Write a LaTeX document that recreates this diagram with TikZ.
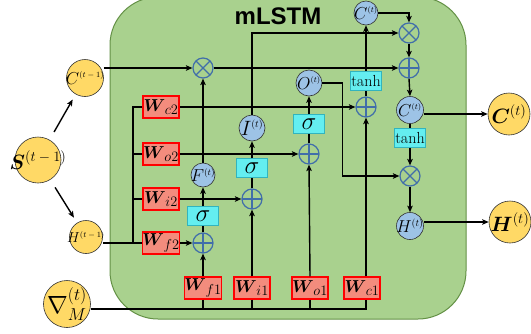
\documentclass[tikz,border=0pt]{standalone}
\usepackage{amsmath,bm}
\usepackage{fontspec}
\newfontfamily\titlefont{Liberation Sans}
\usetikzlibrary{arrows.meta}
\newcommand\myfs[1]{\fontsize{#1}{#1}\selectfont}
\newcommand\clab[4]{\myfs{#1}$#2^{\text{\myfs{#3}$#4$}}$}
\definecolor{gfill}{RGB}{169,209,142}
\definecolor{gline}{RGB}{100,145,70}
\definecolor{yel}{RGB}{255,217,102}
\definecolor{bcol}{RGB}{157,195,230}
\definecolor{opcol}{RGB}{65,110,170}
\definecolor{salm}{RGB}{243,140,125}
\definecolor{cyf}{RGB}{100,238,240}
\definecolor{cyd}{RGB}{50,180,190}
\tikzset{
  conn/.style={line width=1.4pt,draw=black},
  arr/.style={conn,-{Stealth[length=6.5pt,width=5.5pt,inset=1.5pt]}},
  ycirc/.style={circle,draw=black!80,line width=0.6pt,fill=yel,inner sep=0pt},
  bcirc/.style={circle,draw=black!80,line width=0.6pt,fill=bcol,inner sep=0pt,minimum size=26pt},
  wbox/.style={rectangle,fill=salm,draw=red,line width=1.1pt,minimum width=36pt,minimum height=22pt,inner sep=0pt},
  actbox/.style={rectangle,fill=cyf,draw=cyd,line width=0.8pt,minimum width=31pt,minimum height=19pt,inner sep=0pt},
  opn/.style={circle,draw=opcol,line width=1.2pt,minimum size=20pt,inner sep=0pt},
  oplusn/.style={opn,path picture={\draw[opcol,line width=1.2pt] (path picture bounding box.north) -- (path picture bounding box.south) (path picture bounding box.west) -- (path picture bounding box.east);}},
  otimesn/.style={opn,path picture={\draw[opcol,line width=1.2pt] (path picture bounding box.north west) -- (path picture bounding box.south east) (path picture bounding box.north east) -- (path picture bounding box.south west);}},
}
\newcommand\wlab[1]{\myfs{17}$\bm{W}_{\text{\myfs{14}$\,#1$}}$}
\begin{document}
\begin{tikzpicture}[x=1pt,y=-1pt]
\useasboundingbox (0,0) rectangle (531,333);
\filldraw[fill=gfill,draw=gline,line width=1pt,rounded corners=48pt] (110,-3) rectangle (466,319);
\node[font=\titlefont\bfseries\myfs{24}] (title) at (278,16) {mLSTM};
% outer nodes
\node[ycirc,minimum size=37pt,label={center:{\clab{19}{C}{8.5}{(t-1)}}}] (Cprev) at (85,78) {};
\node[ycirc,minimum size=46pt,label={center:{\clab{22}{\bm{S}}{13.5}{(t-1)}}}] (S) at (38,160) {};
\node[ycirc,minimum size=33pt,label={center:{\clab{15}{H}{8.5}{(t-1)}}}] (Hprev) at (86,237) {};
\node[ycirc,minimum size=47pt,label={center:{\myfs{24}$\nabla_{M}^{(t)}$}}] (nabla) at (67,304) {};
\node[ycirc,minimum size=42pt,label={center:{\clab{22}{\bm{C}}{14}{(t)}}}] (Cout) at (509,114) {};
\node[ycirc,minimum size=42pt,label={center:{\clab{20}{\bm{H}}{14}{(t)}}}] (Hout) at (510,222) {};
% operators
\node[otimesn] (ot1) at (203,68) {};
\node[otimesn] (ot2) at (409,33) {};
\node[oplusn] (op2) at (409,68) {};
\node[otimesn] (ot3) at (410,176) {};
\node[oplusn] (pf) at (203,243) {};
\node[oplusn] (pi) at (252,199) {};
\node[oplusn] (po) at (309,154) {};
\node[oplusn] (pc) at (366,107) {};
% activations
\node[actbox] (sf) at (203,216) {\myfs{28}$\sigma$};
\node[actbox] (si) at (252,168) {\myfs{28}$\sigma$};
\node[actbox] (so) at (309,124) {\myfs{28}$\sigma$};
\node[actbox] (tc) at (366,81) {\myfs{16}tanh};
\node[actbox] (th2) at (410,138) {\myfs{16}tanh};
% blue circles
\node[bcirc,minimum size=24pt,label={center:{\clab{16}{F}{9}{(t)}}}] (Ft) at (203,175) {};
\node[bcirc,label={center:{\clab{20}{I}{10}{(t)}}}] (It) at (252,128) {};
\node[bcirc,label={center:{\clab{19}{O}{8.5}{(t)}}}] (Ot) at (309,83) {};
\node[bcirc,minimum size=24pt,label={center:{\clab{17}{C}{8.5}{(t)}}}] (Ct) at (366,13) {};
\node[bcirc,minimum size=27pt,label={center:{\clab{19}{C}{8}{(t)}}}] (Cb) at (410,110) {};
\node[bcirc,minimum size=27pt,label={center:{\clab{16}{H}{10}{(t)}}}] (Hb) at (410,226) {};
% weight boxes
\node[wbox] (Wc2) at (161,107) {\wlab{c2}};
\node[wbox] (Wo2) at (161,154) {\wlab{o2}};
\node[wbox] (Wi2) at (161,199) {\wlab{i2}};
\node[wbox] (Wf2) at (161,243) {\wlab{f2}};
\node[wbox] (Wf1) at (203,288) {\wlab{f1}};
\node[wbox] (Wi1) at (252,288) {\wlab{i1}};
\node[wbox] (Wo1) at (310,288) {\wlab{o1}};
\node[wbox] (Wc1) at (362,288) {\wlab{c1}};
\coordinate (busR) at (366,309);
\coordinate (lb) at (133,243);
% connectors from S
\draw[arr,shorten <=9pt,shorten >=6pt] (S) -- (Cprev);
\draw[arr,shorten <=9pt,shorten >=6pt] (S) -- (Hprev);
% bottom bus
\draw[conn] (nabla.east |- busR) -- (busR) -- ([xshift=4pt]Wc1.south);
\draw[conn] (Wf1.south) -- (Wf1.south |- busR);
\draw[conn] (Wi1.south) -- (Wi1.south |- busR);
\draw[conn] (Wo1.south) -- (Wo1.south |- busR);
\draw[arr] (Wf1.north) -- (pf.south);
\draw[arr] (Wi1.north) -- (pi.south);
\draw[arr] (Wo1.north) -- (po.south);
\draw[arr] ([xshift=4pt]Wc1.north) -- (pc.south);
% left bus
\draw[conn] (Hprev.east |- Wf2.west) -- (Wf2.west);
\draw[conn] (lb) -- (lb |- Wc2.west) -- (Wc2.west);
\draw[conn] (lb |- Wo2.west) -- (Wo2.west);
\draw[conn] (lb |- Wi2.west) -- (Wi2.west);
\draw[arr] (Wc2.east) -- (pc.west);
\draw[arr] (Wo2.east) -- (po.west);
\draw[arr] (Wi2.east) -- (pi.west);
\draw[arr] (Wf2.east) -- (pf.west);
% gates
\draw[conn] (pf.north) -- (sf.south);
\draw[arr] (sf.north) -- (Ft.south);
\draw[arr] (Ft.north) -- (ot1.south);
\draw[conn] (pi.north) -- (si.south);
\draw[arr] (si.north) -- (It.south);
\draw[arr] (It.north) |- (ot2.west);
\draw[conn] (po.north) -- (so.south);
\draw[arr] (so.north) -- (Ot.south);
\draw[arr] (Ot.east) -- ++(20,0) |- (ot3.west);
\draw[conn] (pc.north) -- (tc.south);
\draw[arr] (tc.north) -- (Ct.south);
\draw[arr] (Ct.east) -| (ot2.north);
\draw[arr] (Cprev.east |- ot1.west) -- (ot1.west);
\draw[arr] (ot1.east) -- (op2.west);
\draw[arr] (ot2.south) -- (op2.north);
\draw[arr] (op2.south) -- (Cb.north);
\draw[arr] (Cb.east |- Cout.west) -- (Cout.west);
\draw[conn] (Cb.south) -- (th2.north);
\draw[arr] (th2.south) -- (ot3.north);
\draw[arr] (ot3.south) -- (Hb.north);
\draw[arr] (Hb.east |- Hout.west) -- (Hout.west);
\end{tikzpicture}
\end{document}
